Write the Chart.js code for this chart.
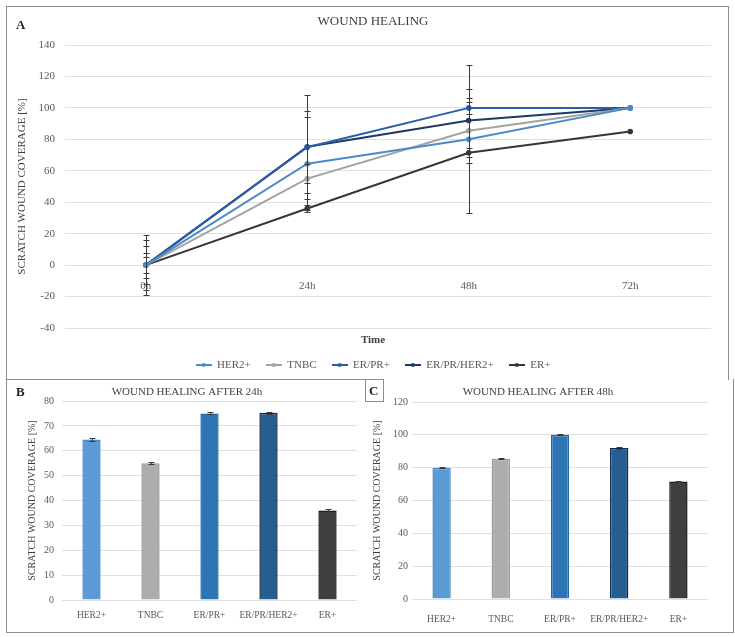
<!DOCTYPE html>
<html>
<head>
<meta charset="utf-8">
<script src="https://cdn.jsdelivr.net/npm/chart.js@4.4.1/dist/chart.umd.min.js"></script>
<style>
  body { margin: 0; width: 735px; height: 637px; background: #fff; position: relative; overflow: hidden; }
  .box { position: absolute; border: 0 solid #8e8e8e; box-sizing: border-box; }
  canvas { position: absolute; }
  .tag { position: absolute; font: bold 13px "Liberation Serif", serif; color: #262626; }
</style>
</head>
<body>
<div class="box" style="left:6px;top:6px;width:723px;height:374px;border-width:1px 1px 0 1px"></div>
<div class="box" style="left:6px;top:379px;width:360px;height:254px;border-width:1px 0 1px 1px"></div>
<div class="box" style="left:365px;top:379px;width:369px;height:254px;border-width:0 1px 1px 0"></div>
<div class="box" style="left:365px;top:379px;width:19px;height:23px;border-width:1px"></div>

<canvas id="woundChart" width="720" height="375" style="left:7px;top:7px"></canvas>
<canvas id="after24Chart" width="358" height="251" style="left:7px;top:380px"></canvas>
<canvas id="after48Chart" width="366" height="251" style="left:366px;top:380px"></canvas>

<div class="tag" style="left:16px;top:17px">A</div>
<div class="tag" style="left:16px;top:384px">B</div>
<div class="tag" style="left:369px;top:383px">C</div>

<script>
// wound healing over time
var timeLabels = ["0h", "24h", "48h", "72h"];
var her2 = [0, 64.5, 80, 100];
var tnbc = [0, 55, 85.5, 100];
var erpr = [0, 75, 100, 100];
var erprher2 = [0, 75.3, 92, 100];
var er = [0, 36, 71.5, 85];
var her2Err = [19, 29.5, 47, 0];
var tnbcErr = [16, 9, 20.5, 0];
var erprErr = [12, 23, 4, 0];
var erprher2Err = [8, 33, 20, 0];
var erErr = [5, 2, 3, 0];

// single time points
var groups = ["HER2+", "TNBC", "ER/PR+", "ER/PR/HER2+", "ER+"];
var after24 = [64.5, 55, 75, 75.3, 36];
var after24Err = [0.5, 0.3, 0.4, 0.4, 0.6];
var after48 = [80, 85.5, 100, 92, 71.5];
var after48Err = [0.4, 0.4, 0.4, 0.4, 0.4];

var serif = "'Liberation Serif', 'Times New Roman', serif";
var lineColors = ["#4b8bc8", "#a3a3a3", "#2c5ea8", "#1f3864", "#363636"];
var barFill = ["#5b9bd5", "#aeacac", "#2e75b6", "#255e91", "#3f3f3f"];
var barEdge = ["#4d8cc6", "#9c9a9a", "#2a69a8", "#13294b", "#1c1c1c"];
var gridColor = "#e0e0e0";

var errorBars = {
    id: "errorBars",
    afterDatasetsDraw: function (chart) {
        var ctx = chart.ctx, y = chart.scales.y;
        ctx.save();
        ctx.strokeStyle = "#3a3a3a";
        ctx.lineWidth = 1;
        chart.data.datasets.forEach(function (ds, i) {
            if (!ds.errors) return;
            chart.getDatasetMeta(i).data.forEach(function (el, j) {
                var e = ds.errors[j];
                if (!e) return;
                var x = Math.round(el.x) + 0.5;
                var top = Math.round(y.getPixelForValue(ds.data[j] + e)) + 0.5;
                var bot = Math.round(y.getPixelForValue(ds.data[j] - e)) + 0.5;
                var w = ds.capWidth || 3;
                ctx.beginPath();
                ctx.moveTo(x, top); ctx.lineTo(x, bot);
                ctx.moveTo(x - w, top); ctx.lineTo(x + w, top);
                ctx.moveTo(x - w, bot); ctx.lineTo(x + w, bot);
                ctx.stroke();
            });
        });
        ctx.restore();
    }
};

function legendMark(color) {
    var c = document.createElement("canvas");
    c.width = 16; c.height = 6;
    var g = c.getContext("2d");
    g.strokeStyle = color; g.lineWidth = 2;
    g.beginPath(); g.moveTo(0, 3); g.lineTo(16, 3); g.stroke();
    g.fillStyle = color;
    g.beginPath(); g.arc(8, 3, 2, 0, Math.PI * 2); g.fill();
    return c;
}

function lineSet(label, data, errs, i) {
    return {
        label: label,
        data: data,
        errors: errs,
        borderColor: lineColors[i],
        backgroundColor: lineColors[i],
        borderWidth: 2,
        pointRadius: 1.8,
        pointHoverRadius: 1.8,
        tension: 0
    };
}

new Chart("woundChart", {
    type: "line",
    data: {
        labels: timeLabels,
        datasets: [
            lineSet("HER2+", her2, her2Err, 0),
            lineSet("TNBC", tnbc, tnbcErr, 1),
            lineSet("ER/PR+", erpr, erprErr, 2),
            lineSet("ER/PR/HER2+", erprher2, erprher2Err, 3),
            lineSet("ER+", er, erErr, 4)
        ]
    },
    options: {
        responsive: false,
        animation: false,
        layout: {padding: {left: 28, right: 16, top: 0, bottom: 1.5}},
        scales: {
            x: {
                position: {y: 0},
                offset: true,
                grid: {display: false},
                border: {display: false},
                ticks: {padding: 6.4, color: "#595959", font: {family: serif, size: 11}}
            },
            y: {
                min: -40,
                max: 140,
                afterFit: function (s) { s.width = 30; },
                grid: {color: gridColor, drawTicks: false},
                border: {display: false},
                ticks: {stepSize: 20, padding: 10, color: "#595959", font: {family: serif, size: 11}},
                title: {
                    display: true,
                    text: "SCRATCH WOUND COVERAGE [%]",
                    color: "#404040",
                    font: {family: serif, size: 11},
                    padding: {top: -19.6, bottom: 0}
                }
            }
        },
        plugins: {
            title: {
                display: true,
                text: "WOUND HEALING",
                color: "#404040",
                font: {family: serif, size: 13, weight: "normal"},
                padding: {top: 7.2, bottom: 15.2}
            },
            legend: {
                position: "bottom",
                title: {
                    display: true,
                    text: "Time",
                    color: "#404040",
                    font: {family: serif, size: 11, weight: "bold"},
                    padding: {top: 6.4, bottom: -3.1}
                },
                labels: {
                    usePointStyle: true,
                    pointStyleWidth: 16,
                    padding: 15,
                    color: "#595959",
                    font: {family: serif, size: 11},
                    generateLabels: function (chart) {
                        return chart.data.datasets.map(function (ds, i) {
                            return {
                                text: ds.label,
                                pointStyle: legendMark(ds.borderColor),
                                fontColor: "#595959",
                                fillStyle: "transparent",
                                strokeStyle: "transparent",
                                lineWidth: 0,
                                hidden: false,
                                datasetIndex: i
                            };
                        });
                    }
                }
            },
            tooltip: {enabled: false}
        }
    },
    plugins: [errorBars]
});

function barChart(id, title, values, errs, maxY, step, opts) {
    return new Chart(id, {
        type: "bar",
        data: {
            labels: groups,
            datasets: [{
                data: values,
                errors: errs,
                backgroundColor: barFill,
                borderColor: barEdge,
                borderWidth: 1.5,
                barPercentage: 0.31,
                categoryPercentage: 1
            }]
        },
        options: {
            responsive: false,
            animation: false,
            layout: {padding: {left: opts.padLeft, right: opts.padRight, top: 0, bottom: 0}},
            scales: {
                x: {
                    afterFit: function (s) { s.height = opts.xHeight; },
                    grid: {display: false},
                    border: {display: false},
                    ticks: {
                        padding: opts.xPad,
                        maxRotation: 0,
                        minRotation: 0,
                        autoSkip: false,
                        color: "#595959",
                        font: {family: serif, size: 9.5}
                    }
                },
                y: {
                    min: 0,
                    max: maxY,
                    afterFit: function (s) { s.width = opts.yWidth; },
                    grid: {color: gridColor, drawTicks: false},
                    border: {display: false},
                    ticks: {stepSize: step, padding: opts.yPad, color: "#595959", font: {family: serif, size: 10}},
                    title: {
                        display: true,
                        text: "SCRATCH WOUND COVERAGE [%]",
                        color: "#404040",
                        font: {family: serif, size: 10},
                        padding: {top: opts.titlePad, bottom: 0}
                    }
                }
            },
            plugins: {
                title: {
                    display: true,
                    text: title,
                    color: "#404040",
                    font: {family: serif, size: 11, weight: "normal"},
                    padding: {top: 5.4, bottom: opts.titleBottom}
                },
                legend: {display: false},
                tooltip: {enabled: false}
            }
        },
        plugins: [errorBars]
    });
}

barChart("after24Chart", "WOUND HEALING AFTER 24h", after24, after24Err, 80, 10,
    {padLeft: 10, padRight: 8, yWidth: 45, titlePad: 9, yPad: 8, xHeight: 31, xPad: 1.5, titleBottom: 2.4});
barChart("after48Chart", "WOUND HEALING AFTER 48h", after48, after48Err, 120, 20,
    {padLeft: 2, padRight: 24, yWidth: 44, titlePad: 3, yPad: 4, xHeight: 32, xPad: 6.3, titleBottom: 3.4});
</script>
</body>
</html>
